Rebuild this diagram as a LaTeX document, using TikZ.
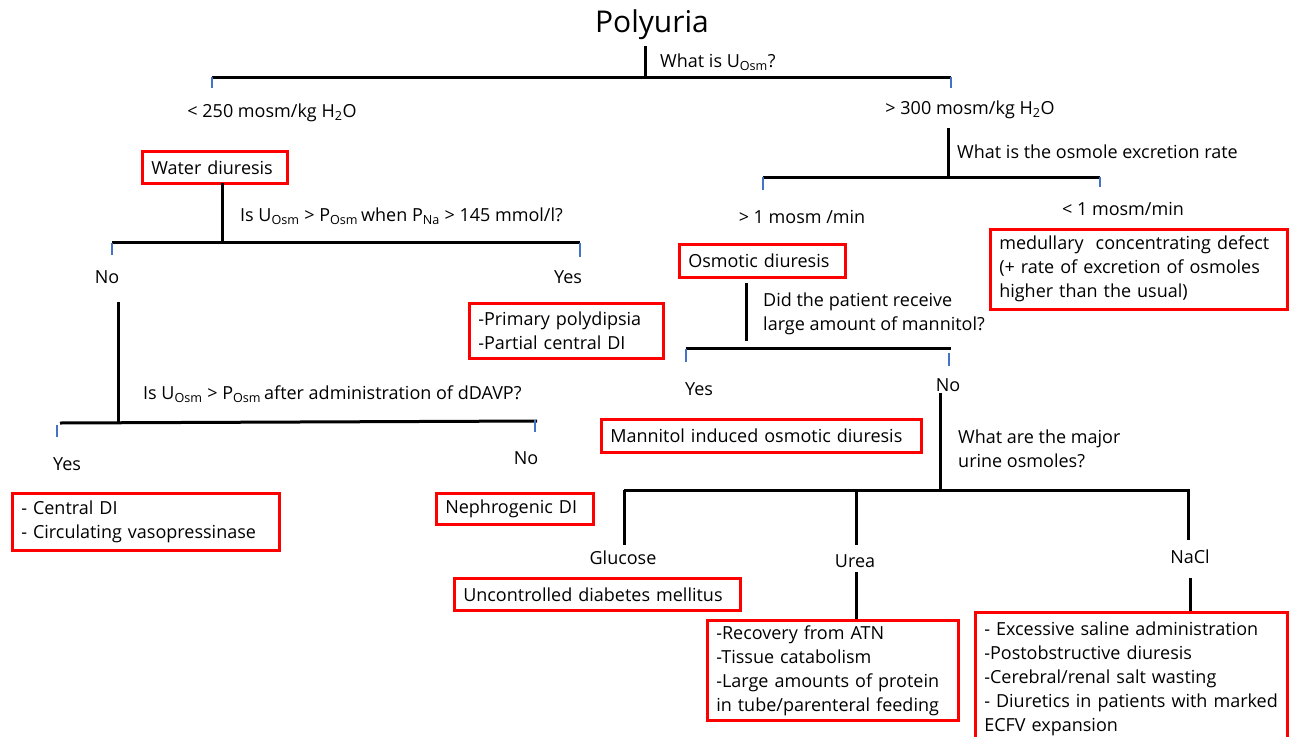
\documentclass[tikz,border=0pt]{standalone}
\usepackage{fontspec}
\setmainfont{Open Sans}
\definecolor{boxred}{HTML}{FF0000}
\definecolor{tickblue}{HTML}{4472C4}
\begin{document}
\begin{tikzpicture}[x=1pt,y=-1pt,
  every node/.style={font=\fontsize{18}{24}\selectfont, inner sep=0pt},
  tree/.style={line width=3pt, black},
  tickmark/.style={line width=2pt, tickblue},
  box/.style={draw=boxred, line width=2.5pt, inner xsep=9pt, inner ysep=5pt, align=left, anchor=north west},
  lbl/.style={inner sep=0pt},
  qlbl/.style={inner sep=0pt, anchor=west, align=left}]
\useasboundingbox (0,0) rectangle (1289,736);

% ---------- texts ----------
\node[lbl, font=\fontsize{30}{34}\selectfont] (title) at (652,25) {Polyuria};
\node[qlbl] (q1) at (660,62) {What is U\textsubscript{Osm}?};
\node[lbl] (lo250) at (272,113) {< 250 mosm/kg H\textsubscript{2}O};
\node[lbl] (hi300) at (970,110) {> 300 mosm/kg H\textsubscript{2}O};

% left branch
\node[box, minimum width=145pt, minimum height=32pt, text width=127pt] (wd) at (141,150) {Water diuresis};
\node[qlbl] (q2) at (240,216) {Is U\textsubscript{Osm} > P\textsubscript{Osm}\,when P\textsubscript{Na} > 145 mmol/l?};
\node[lbl] (no1) at (107,277) {No};
\node[lbl] (yes1) at (568,277) {Yes};
\node[box, minimum width=194pt, minimum height=55pt, text width=176pt] (pp) at (468,302) {-Primary polydipsia\\-Partial central DI};
\node[qlbl] (q3) at (143,394) {Is U\textsubscript{Osm} > P\textsubscript{Osm}\,after administration of dDAVP?};
\node[lbl] (yes2) at (67,464) {Yes};
\node[lbl] (no2) at (526,458) {No};
\node[box, minimum width=267pt, minimum height=57pt, text width=249pt] (cdi) at (11,492) {- Central DI\\- Circulating vasopressinase};
\node[box, minimum width=157pt, minimum height=31pt, text width=139pt] (ndi) at (435,492) {Nephrogenic DI};

% right branch
\node[qlbl] (q4) at (957,152) {What is the osmole excretion rate};
\node[lbl] (gt1) at (802,217) {> 1 mosm /min};
\node[lbl] (lt1) at (1123,209) {< 1 mosm/min};
\node[box, minimum width=297pt, minimum height=80pt, text width=279pt] (med) at (989,228) {medullary~ concentrating defect\\(+ rate of excretion of osmoles\\higher than the usual)};
\node[box, minimum width=166pt, minimum height=33pt, text width=148pt] (osm) at (678,243) {Osmotic diuresis};
\node[qlbl] (q5) at (763,314) {Did the patient receive\\large amount of mannitol?};
\node[lbl] (yes3) at (699,389) {Yes};
\node[lbl] (no3) at (948,385) {No};
\node[box, minimum width=320pt, minimum height=33pt, text width=302pt] (man) at (600,418) {Mannitol induced osmotic diuresis};
\node[qlbl] (q6) at (958,449) {What are the major\\urine osmoles?};
\node[lbl] (glu) at (623,558) {Glucose};
\node[lbl] (urea) at (855,561) {Urea};
\node[lbl] (nacl) at (1190,557) {NaCl};
\node[box, minimum width=286pt, minimum height=32pt, text width=268pt] (unc) at (453,577) {Uncontrolled diabetes mellitus};
\node[box, minimum width=251pt, minimum height=100pt, text width=233pt] (ureabox) at (706,619) {-Recovery from ATN\\-Tissue catabolism\\-Large amounts of protein\\in tube/parenteral feeding};
\node[box, minimum width=312pt, inner ysep=10pt, text width=294pt] (naclbox) at (974,611) {- Excessive saline administration\\-Postobstructive diuresis\\-Cerebral/renal salt wasting\\- Diuretics in patients with marked\\ECFV expansion};

% ---------- junction coordinates ----------
\coordinate (t0) at (645,46);
\coordinate (j1) at (645,77);
\coordinate (b1L) at (212,77);
\coordinate (b1R) at (951,77);
\coordinate (k1L) at (212,88);
\coordinate (k1R) at (951,88);

\coordinate (r0) at (948,128);
\coordinate (j2) at (948,177);
\coordinate (b2L) at (763,177);
\coordinate (b2R) at (1100,177);
\coordinate (k2L) at (763,190);
\coordinate (k2R) at (1100,187);

\coordinate (o0) at (746,283);
\coordinate (o1) at (746,341);
\coordinate (b3L) at (686,348);
\coordinate (b3R) at (951,348);
\coordinate (k3La) at (686,349);
\coordinate (k3Lb) at (686,362);
\coordinate (k3Ra) at (949,353);
\coordinate (k3Rb) at (949,366);

\coordinate (n0) at (940,393);
\coordinate (j4) at (940,490);
\coordinate (b4L) at (624,490);
\coordinate (b4R) at (1190,490);
\coordinate (g1) at (624,545);
\coordinate (u0) at (856,490);
\coordinate (u1) at (856,545);
\coordinate (u2) at (856,572);
\coordinate (u3) at (856,619);
\coordinate (s0) at (1188,490);
\coordinate (s1) at (1188,540);
\coordinate (s2) at (1190,578);
\coordinate (s3) at (1190,611);

\coordinate (w0) at (222,183);
\coordinate (j5) at (222,242);
\coordinate (b5L) at (112,242);
\coordinate (b5R) at (580,242);
\coordinate (k5La) at (112,243);
\coordinate (k5Lb) at (112,255);
\coordinate (k5Ra) at (580,243);
\coordinate (k5Rb) at (580,257);

\coordinate (v0) at (118,302);
\coordinate (j6) at (118,422);
\coordinate (b6L) at (60,423);
\coordinate (b6R) at (537,421);
\coordinate (k6La) at (57,425);
\coordinate (k6Lb) at (57,437);
\coordinate (k6Ra) at (535,420);
\coordinate (k6Rb) at (535,432);

% ---------- connectors ----------
\draw[tree] (t0) -- (j1);
\draw[tree] (b1L) -- (b1R);
\draw[tickmark] (b1L) -- (k1L);
\draw[tickmark] (b1R) -- (k1R);

\draw[tree] (r0) -- (j2);
\draw[tree] (b2L) -- (b2R);
\draw[tickmark] (b2L) -- (k2L);
\draw[tickmark] (b2R) -- (k2R);

\draw[tree] (o0) -- (o1);
\draw[tree] (b3L) -- (b3R);
\draw[tickmark] (k3La) -- (k3Lb);
\draw[tickmark] (k3Ra) -- (k3Rb);

\draw[tree] (n0) -- (j4);
\draw[tree] (b4L) -- (b4R);
\draw[tree] (b4L) -- (g1);
\draw[tree] (u0) -- (u1);
\draw[tree] (u2) -- (u3);
\draw[tree] (s0) -- (s1);
\draw[tree] (s2) -- (s3);

\draw[tree] (w0) -- (j5);
\draw[tree] (b5L) -- (b5R);
\draw[tickmark] (k5La) -- (k5Lb);
\draw[tickmark] (k5Ra) -- (k5Rb);

\draw[tree] (v0) -- (j6);
\draw[tree] (b6L) -- (b6R);
\draw[tickmark] (k6La) -- (k6Lb);
\draw[tickmark] (k6Ra) -- (k6Rb);
\end{tikzpicture}
\end{document}
